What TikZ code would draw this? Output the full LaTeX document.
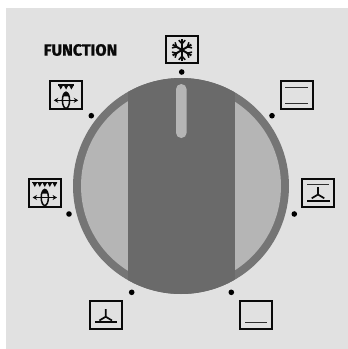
\documentclass[tikz,border=0pt]{standalone}
\usepackage{fontspec}
\newfontfamily\titlefont[BoldFont={* Bold},BoldFeatures={FakeBold=1.2}]{Fira Sans}
\usetikzlibrary{arrows.meta}
\definecolor{panel}{HTML}{E1E1E1}
\definecolor{ringc}{HTML}{757575}
\definecolor{bandc}{HTML}{6A6A6A}
\definecolor{lightc}{HTML}{B5B5B5}
\definecolor{inkc}{HTML}{0A0A0A}
\tikzset{
  x=1pt,y=-1pt,
  iconbox/.style={draw=inkc,line width=2pt,fill=panel,minimum width=32pt,minimum height=27.8pt,inner sep=0pt},
  dotmark/.style={circle,fill=black,minimum size=5.6pt,inner sep=0pt},
  thin line/.style={draw=inkc!85,line width=1.4pt},
  fan line/.style={draw=inkc,line width=1.7pt},
  spin/.style={draw=inkc,line width=1.5pt},
  pics/fan/.style={code={
    \draw[fan line] (0,-7.5)--(0,0) (-6.3,3.8)--(0,0)--(6.3,3.8);
  }},
  pics/arm/.style={code={
    \draw[inkc,line width=2pt] (0,0)--(0,-10.8);
    \draw[inkc,line width=1.5pt] (-3.2,-9.8)--(0,-6.2)--(3.2,-9.8);
  }},
  pics/spinner/.style={code={
    \draw[spin,{Stealth[length=4.4pt,width=5pt]}-{Stealth[length=4.4pt,width=5pt]}] (-12.2,0)--(12.2,0);
    \draw[spin] (0,0) ellipse[x radius=3.6pt,y radius=8pt];
    \fill[inkc] (-3,-4)--(0,-9)--(3.2,-4)--cycle;
  }}
}
\begin{document}
\begin{tikzpicture}
\useasboundingbox (0,0) rectangle (348,349);
\fill[white] (0,0) rectangle (348,349);
\fill[panel] (6,8) rectangle (348,349);
% knob
\fill[ringc] (181,186) circle[radius=108pt];
\fill[lightc] (181,186) circle[radius=100pt];
\begin{scope}
  \clip (181,186) circle[radius=108pt];
  \fill[bandc] (128,70) rectangle (235,300);
\end{scope}
\fill[lightc,rounded corners=5.2pt] (176,84) rectangle (186.6,138);
% label
\node[font=\titlefont\bfseries\fontsize{15.5}{15.5}\selectfont,text=inkc,inner sep=0pt] (title) at (80.5,50) {\resizebox{73.5pt}{11.5pt}{FUNCTION}};
% setting marks
\node[dotmark] (d1) at (181.7,72) {};
\node[dotmark] (d2) at (272,115.7) {};
\node[dotmark] (d3) at (294.3,214) {};
\node[dotmark] (d4) at (231.3,292.3) {};
\node[dotmark] (d5) at (131.7,292.3) {};
\node[dotmark] (d6) at (69,214) {};
\node[dotmark] (d7) at (91.3,115.7) {};
% icon boxes
\node[iconbox] (b1) at (182,49.5) {};
\node[iconbox] (b2) at (296.7,95.2) {};
\node[iconbox] (b3) at (318.3,193.2) {};
\node[iconbox] (b4) at (256.2,314.8) {};
\node[iconbox] (b5) at (106.2,314.8) {};
\node[iconbox] (b6) at (44.8,193.2) {};
\node[iconbox] (b7) at (66,95.2) {};
% snowflake
\foreach \a in {0,60,...,300}
  \pic[rotate=\a] at (182,50) {arm};
% top and bottom heat
\draw[thin line] (285.3,87.3)--(308,87.3) (285.3,103.7)--(308,103.7);
% fan with both elements
\draw[thin line] (307,184.3)--(329,184.3);
\pic at (318,194.5) {fan};
\draw[fan line] (307,200.8)--(329.5,200.8);
% bottom heat
\draw[thin line] (245.3,322.7)--(267.3,322.7);
% fan with bottom element
\pic at (105.7,316.7) {fan};
\draw[fan line] (95.3,322.2)--(116.7,322.2);
% grill with spit, full width
\draw[inkc,line width=1.4pt] (32.3,182.3)--(57.3,182.3);
\foreach \x in {34.8,39.8,44.8,49.8,54.8}
  \fill[inkc] (\x-2.5,182.3)--(\x+2.5,182.3)--(\x,187)--cycle;
\pic at (44.8,197.5) {spinner};
% grill with spit, centre
\draw[inkc,line width=1.4pt] (58.3,85)--(74,85);
\foreach \x in {60.8,66.1,71.4}
  \fill[inkc] (\x-2.5,85)--(\x+2.5,85)--(\x,89.5)--cycle;
\pic at (66,100.3) {spinner};
\end{tikzpicture}
\end{document}
